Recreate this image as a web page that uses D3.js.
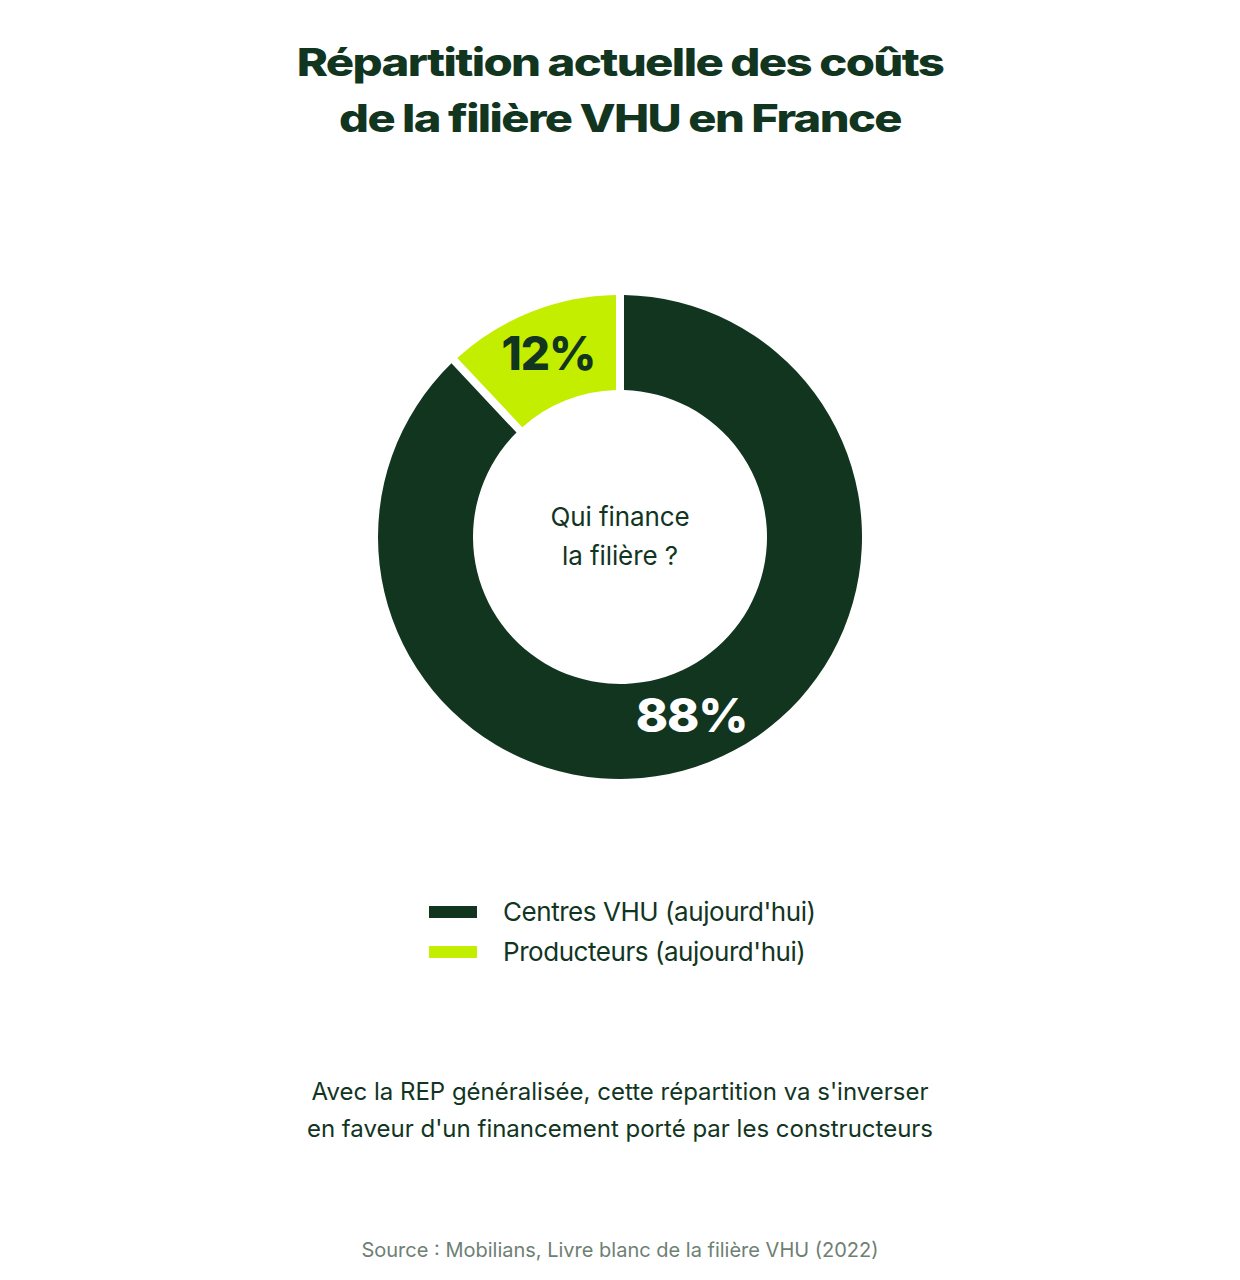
<!DOCTYPE html>
<html>
<head>
<meta charset="utf-8">
<script src="https://cdn.jsdelivr.net/npm/d3@7"></script>
<style>
  body { margin: 0; background: #fff; }
  text { font-family: Inter, "Noto Sans", sans-serif; }
</style>
</head>
<body>
<div id="chart"></div>
<script>
// data
var categories = ["Centres VHU (aujourd'hui)", "Producteurs (aujourd'hui)"];
var values = [88, 12];
var labels = ["88%", "12%"];
var colors = ["#12351f", "#c3ee00"];
var titleLines = ["Répartition actuelle des coûts", "de la filière VHU en France"];
var centerLines = ["Qui finance", "la filière ?"];
var noteLines = ["Avec la REP généralisée, cette répartition va s'inverser",
                 "en faveur d'un financement porté par les constructeurs"];
var source = "Source : Mobilians, Livre blanc de la filière VHU (2022)";

var width = 1240, height = 1280;
var dark = "#12351f";

var svg = d3.select("#chart")
  .append("svg")
  .attr("width", width)
  .attr("height", height);

// stretch a text horizontally to a given width (the original uses a wide display face)
function stretchTo(sel, widths) {
  sel.each(function(d, i) {
    var len = this.getComputedTextLength();
    var t = d3.select(this);
    var x = +t.attr("x"), y = +t.attr("y");
    t.attr("x", 0).attr("y", 0)
      .attr("transform", "translate(" + x + "," + y + ") scale(" + (widths[i] / len) + ",1)");
  });
}

// title
var titleWidths = [647, 562];
svg.append("g").selectAll("text")
  .data(titleLines)
  .join("text")
  .attr("x", width / 2)
  .attr("y", (d, i) => 76 + i * 56)
  .attr("text-anchor", "middle")
  .attr("font-size", 38)
  .attr("font-weight", 800)
  .attr("letter-spacing", -1.3)
  .attr("word-spacing", -0.5)
  .attr("fill", dark)
  .text(d => d)
  .call(stretchTo, titleWidths);

// donut
var cx = 620, cy = 537;
var outer = 242, inner = 147;

var pie = d3.pie().sort(null).value(d => d);
var arc = d3.arc()
  .innerRadius(inner)
  .outerRadius(outer)
  .padRadius(outer)
  .padAngle(8 / outer);
var labelArc = d3.arc().innerRadius(inner).outerRadius(outer);

var g = svg.append("g")
  .attr("transform", "translate(" + cx + "," + cy + ")");

var arcs = pie(values);

g.selectAll("path")
  .data(arcs)
  .join("path")
  .attr("d", arc)
  .attr("fill", (d, i) => colors[i]);

var pctWidths = [112, 94];
g.selectAll(".pct")
  .data(arcs)
  .join("text")
  .attr("class", "pct")
  .attr("x", d => labelArc.centroid(d)[0])
  .attr("y", d => labelArc.centroid(d)[1] + 14)
  .attr("text-anchor", "middle")
  .attr("font-size", 47)
  .attr("font-weight", 800)
  .attr("letter-spacing", -1)
  .attr("fill", (d, i) => i === 0 ? "#ffffff" : dark)
  .text((d, i) => labels[i])
  .call(stretchTo, pctWidths);

g.selectAll(".center")
  .data(centerLines)
  .join("text")
  .attr("class", "center")
  .attr("x", 0)
  .attr("y", (d, i) => -11 + i * 39)
  .attr("text-anchor", "middle")
  .attr("font-size", 26)
  .attr("font-weight", 400)
  .attr("letter-spacing", -0.1)
  .attr("fill", dark)
  .text(d => d);

// legend
var legend = svg.append("g")
  .attr("transform", "translate(429,906)");

var item = legend.selectAll("g")
  .data(categories)
  .join("g")
  .attr("transform", (d, i) => "translate(0," + i * 40 + ")");

item.append("rect")
  .attr("width", 48)
  .attr("height", 12)
  .attr("fill", (d, i) => colors[i]);

item.append("text")
  .attr("x", 74)
  .attr("y", 15)
  .attr("font-size", 26)
  .attr("font-weight", 400)
  .attr("letter-spacing", -0.45)
  .attr("fill", dark)
  .text(d => d);

// note
svg.append("g").selectAll("text")
  .data(noteLines)
  .join("text")
  .attr("x", width / 2)
  .attr("y", (d, i) => 1100 + i * 37)
  .attr("text-anchor", "middle")
  .attr("font-size", 24)
  .attr("font-weight", 400)
  .attr("letter-spacing", 0)
  .attr("fill", dark)
  .text(d => d);

// source
svg.append("text")
  .attr("x", width / 2)
  .attr("y", 1257)
  .attr("text-anchor", "middle")
  .attr("font-size", 20)
  .attr("font-weight", 400)
  .attr("letter-spacing", 0)
  .attr("fill", "#6e8073")
  .text(source);
</script>
</body>
</html>
